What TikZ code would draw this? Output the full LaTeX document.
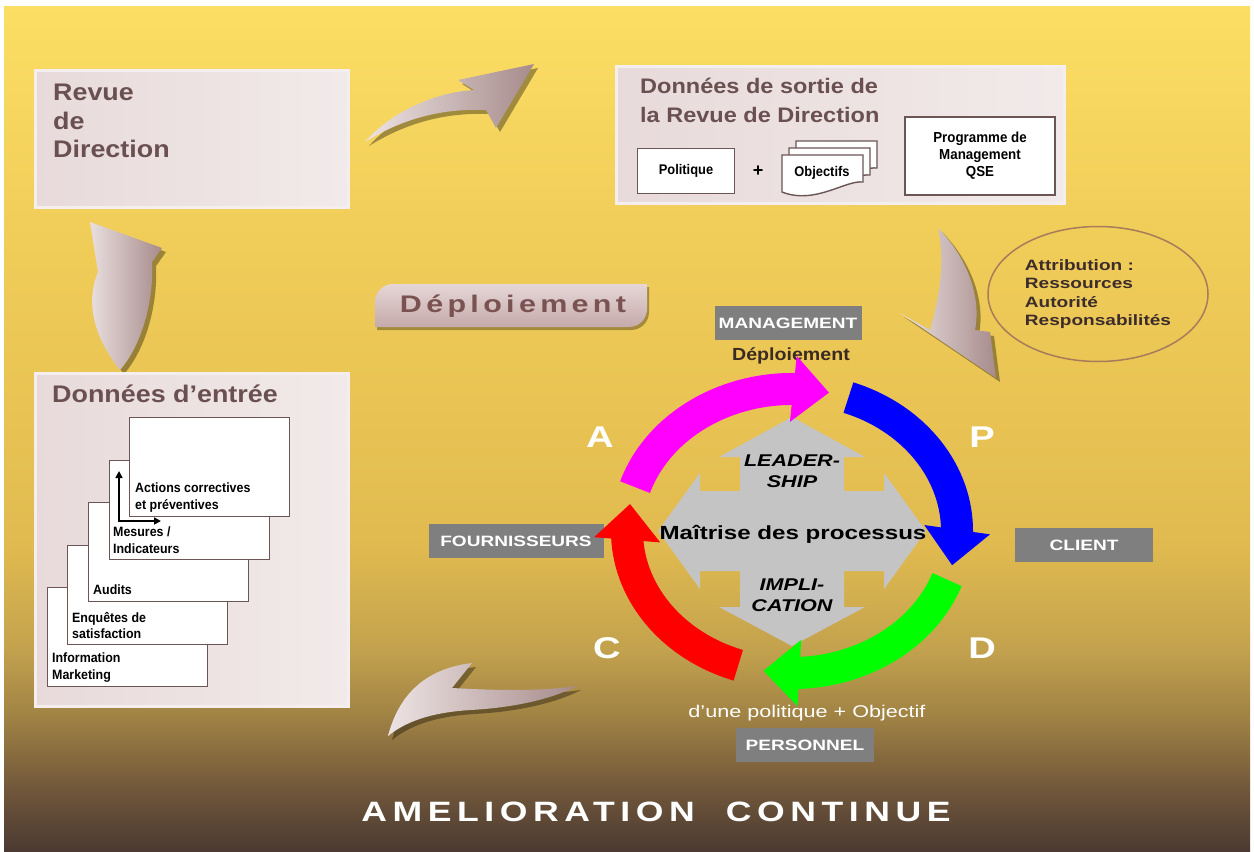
\documentclass[tikz,border=0pt]{standalone}
\usepackage{fontspec}
\setmainfont{Liberation Sans}
\newfontfamily\titlefont[FakeStretch=1.12]{Liberation Sans}
\newfontfamily\widefont[FakeStretch=1.27]{Liberation Sans}
\newfontfamily\narrowfont[FakeStretch=0.92]{Liberation Sans}
\usetikzlibrary{arrows.meta,bending,shadows,shapes.geometric,positioning}

\definecolor{bgtop}{HTML}{FCDE64}
\definecolor{bghigh}{HTML}{EFCB58}
\definecolor{bgupper}{HTML}{E9C454}
\definecolor{bgmid}{HTML}{E0BA4F}
\definecolor{bglow}{HTML}{C3A24E}
\definecolor{bgbrown}{HTML}{A08244}
\definecolor{bgdark}{HTML}{6E553A}
\definecolor{bgbottom}{HTML}{4B3A32}
\definecolor{panelL}{HTML}{E8DADA}
\definecolor{panelR}{HTML}{F2EAEA}
\definecolor{panelline}{HTML}{F4EEEE}
\definecolor{titlecol}{HTML}{6A5050}
\definecolor{pageline}{HTML}{6B5555}
\definecolor{taggray}{HTML}{7F7F7F}
\definecolor{ellline}{HTML}{A87C5A}
\definecolor{attrtext}{HTML}{3C2C2C}
\definecolor{deptext}{HTML}{3A2A22}
\definecolor{swooshA}{HTML}{EDE3E3}
\definecolor{swooshB}{HTML}{A78B8B}
\definecolor{btnA}{HTML}{E6D6D6}
\definecolor{btnB}{HTML}{C5AAAA}
\definecolor{btntext}{HTML}{7B5252}
\definecolor{quadgray}{HTML}{C4C4C4}
\definecolor{pdcapink}{HTML}{FF00FF}
\definecolor{pdcablue}{HTML}{0000FF}
\definecolor{pdcagreen}{HTML}{00FF00}
\definecolor{pdcared}{HTML}{FF0000}

% only the 25bp--75bp part of a shading covers the path
\pgfdeclareverticalshading{bgshade}{100bp}{color(0bp)=(bgbottom); color(25bp)=(bgbottom); color(28.5bp)=(bgdark); color(33bp)=(bgbrown); color(37bp)=(bglow); color(43bp)=(bgmid); color(51.5bp)=(bgupper); color(60bp)=(bghigh); color(75bp)=(bgtop); color(100bp)=(bgtop)}

\begin{document}
\begin{tikzpicture}[x=1pt,y=-1pt,
  panel/.style={draw=panelline, line width=3pt, left color=panelL, right color=panelR},
  paneltitle/.style={anchor=north west, inner sep=0pt, align=left, text=titlecol, font=\titlefont\bfseries\fontsize{24}{28.5}\selectfont},
  whitebox/.style={draw=pageline, line width=1.4pt, fill=white},
  pagebox/.style={whitebox, anchor=north west, minimum width=160, minimum height=99, inner sep=0pt},
  pagetext/.style={anchor=north west, inner sep=0pt, align=left, font=\narrowfont\bfseries\fontsize{13.5}{16.5}\selectfont},
  tag/.style={fill=taggray, text=white, inner sep=0pt, minimum height=34, font=\widefont\bfseries\fontsize{15}{18}\selectfont},
  swoosh/.style={left color=swooshA, right color=swooshB, drop shadow={shadow xshift=4pt, shadow yshift=-4pt, opacity=0.35, fill=black}},
  btn/.style={top color=btnA, bottom color=btnB, drop shadow={shadow xshift=2pt, shadow yshift=-3pt, opacity=0.3, fill=black}},
  pdcaarc/.style={line width=32pt, -{Triangle[length=36pt,width=64pt]}},
  pdcaletter/.style={text=white, font=\widefont\bfseries\fontsize{30}{30}\selectfont},
  centertext/.style={align=center, inner sep=0pt, font=\widefont\bfseries\itshape\fontsize{17}{21}\selectfont}
]

% background
\fill[white] (0,0) rectangle (1254,852);
\useasboundingbox (0,0) rectangle (1254,852);
\shade[shading=bgshade] (4,6) rectangle (1250,852);

% curved arrows between the boxes
\path[swoosh] (365,142) .. controls (395,108) and (440,92) .. (474,90) -- (458,80) -- (534,64) -- (496,128) -- (486,110) .. controls (440,108) and (400,120) .. cycle;
\path[swoosh] (938,228) .. controls (965,255) and (982,295) .. (975,330) -- (990,332) -- (996,378) -- (900,313) -- (930,330) .. controls (940,295) and (945,260) .. cycle;
\path[swoosh] (577,686) .. controls (535,692) and (490,690) .. (452,688) -- (472,663) .. controls (430,668) and (400,690) .. (388,736) .. controls (410,718) and (440,712) .. (470,710) .. controls (510,708) and (550,700) .. cycle;
\path[swoosh] (120,370) .. controls (92,335) and (86,300) .. (98,272) -- (90,222) -- (162,248) -- (152,262) .. controls (154,300) and (142,345) .. cycle;

% revue de direction
\node[panel, anchor=north west, minimum width=313, minimum height=137] (revue) at (34,69) {};
\node[paneltitle] (revuet) at (53,84) {Revue\\de\\Direction};

% donnees de sortie
\node[panel, anchor=north west, minimum width=448, minimum height=137] (sortie) at (615,65) {};
\node[paneltitle, font=\titlefont\bfseries\fontsize{21}{29}\selectfont] (sortiet) at (640,78) {Données de sortie de\\la Revue de Direction};
\node[whitebox, minimum width=97, minimum height=45, font=\narrowfont\bfseries\fontsize{14}{16}\selectfont] (politique) at (686,171) {Politique};
\node[font=\bfseries\fontsize{18}{18}\selectfont] (plus) at (758,171) {+};
\foreach \d in {14,7,0}
  \draw[whitebox] (782+\d,155-\d) -- (863+\d,155-\d) -- (863+\d,182-\d) .. controls (845+\d,180-\d) and (815+\d,205-\d) .. (782+\d,192-\d) -- cycle;
\node[font=\narrowfont\bfseries\fontsize{14}{16}\selectfont] (objectifs) at (822,173) {Objectifs};
\node[whitebox, minimum width=150, minimum height=78, align=center, font=\narrowfont\bfseries\fontsize{14.5}{17}\selectfont] (programme) at (980,156) {Programme de\\Management\\QSE};

% donnees d'entree
\node[panel, anchor=north west, minimum width=313, minimum height=333] (entree) at (34,372) {};
\node[paneltitle] (entreet) at (52,385) {Données d’entrée};
\node[pagebox] (info) at (47,587) {};
\node[pagetext] (infot) at (52,653) {Information\\Marketing};
\node[pagebox] (enq) at (67,545) {};
\node[pagetext] (enqt) at (72,612) {Enquêtes de\\satisfaction};
\node[pagebox] (audits) at (88,502) {};
\node[pagetext] (auditst) at (93,585) {Audits};
\node[pagebox] (mesures) at (109,460) {};
\node[pagetext] (mesurest) at (113,527) {Mesures /\\Indicateurs};
\node[pagebox] (actions) at (129,417) {};
\node[pagetext] (actionst) at (135,483) {Actions correctives\\et préventives};
\coordinate (elbtop) at (119,471);
\coordinate (elbcorner) at (119,521);
\coordinate (elbend) at (161,521);
\draw[line width=1.6pt, {Triangle[length=7pt,width=7pt]}-{Triangle[length=7pt,width=7pt]}] (elbtop) -- (elbcorner) -- (elbend);

% deploiement button
\path[btn] (375,327) -- (375,302) arc[start angle=180, end angle=270, radius=18] -- (647,284) -- (647,309) arc[start angle=0, end angle=90, radius=18] -- cycle;
\node[text=btntext, font=\widefont\bfseries\fontsize{24}{24}\selectfont\addfontfeature{LetterSpace=18}] (deploy) at (513,306) {Déploiement};

% attribution
\node[ellipse, draw=ellline, line width=1.5pt, minimum width=220, minimum height=135, align=left, text=attrtext, font=\widefont\bfseries\fontsize{15}{18.3}\selectfont] (attrib) at (1098,294) {Attribution :\\Ressources\\Autorité\\Responsabilités};

% labels round the cycle
\node[tag, minimum width=147] (management) at (788,323) {MANAGEMENT};
\node[text=deptext, font=\titlefont\bfseries\fontsize{17.5}{17.5}\selectfont] (deploy2) at (791,356) {Déploiement};
\node[tag, minimum width=138] (client) at (1084,545) {CLIENT};
\node[tag, minimum width=175] (fourn) at (516,541) {FOURNISSEURS};
\node[text=white, font=\widefont\fontsize{17}{17}\selectfont] (politobj) at (807,713) {d’une politique + Objectif};
\node[tag, minimum width=138] (personnel) at (805,745) {PERSONNEL};

% PDCA
\coordinate (pdca) at (792,531);
\fill[quadgray] (792,417) -- (865,457) -- (844,457) -- (844,491) -- (884,491) -- (884,473) -- (926,531) -- (884,589) -- (884,571) -- (844,571) -- (844,607) -- (865,607) -- (792,646) -- (719,607) -- (740,607) -- (740,571) -- (700,571) -- (700,589) -- (658,531) -- (700,473) -- (700,491) -- (740,491) -- (740,457) -- (719,457) -- cycle;
\draw[pdcaarc, pdcapink] (pdca) ++(-162:165 and 142) arc[start angle=-162, end angle=-77, x radius=165, y radius=142];
\draw[pdcaarc, pdcablue] (pdca) ++(-70:165 and 142) arc[start angle=-70, end angle=14, x radius=165, y radius=142];
\draw[pdcaarc, pdcagreen] (pdca) ++(20:165 and 142) arc[start angle=20, end angle=100, x radius=165, y radius=142];
\draw[pdcaarc, pdcared] (pdca) ++(109:165 and 142) arc[start angle=109, end angle=191, x radius=165, y radius=142];
\node[pdcaletter] (la) at (600,437) {A};
\node[pdcaletter] (lp) at (982,437) {P};
\node[pdcaletter] (lc) at (607,648) {C};
\node[pdcaletter] (ld) at (982,648) {D};
\node[centertext] (leader) at (792,471) {LEADER-\\SHIP};
\node[inner sep=0pt, font=\widefont\bfseries\fontsize{19}{19}\selectfont] (maitrise) at (793,534) {Maîtrise des processus};
\node[centertext] (implic) at (792,595) {IMPLI-\\CATION};

\node[text=white, font=\widefont\bfseries\fontsize{28}{28}\selectfont\addfontfeature{LetterSpace=20}] (amelio) at (656,812) {AMELIORATION\ \ CONTINUE};
\end{tikzpicture}
\end{document}
